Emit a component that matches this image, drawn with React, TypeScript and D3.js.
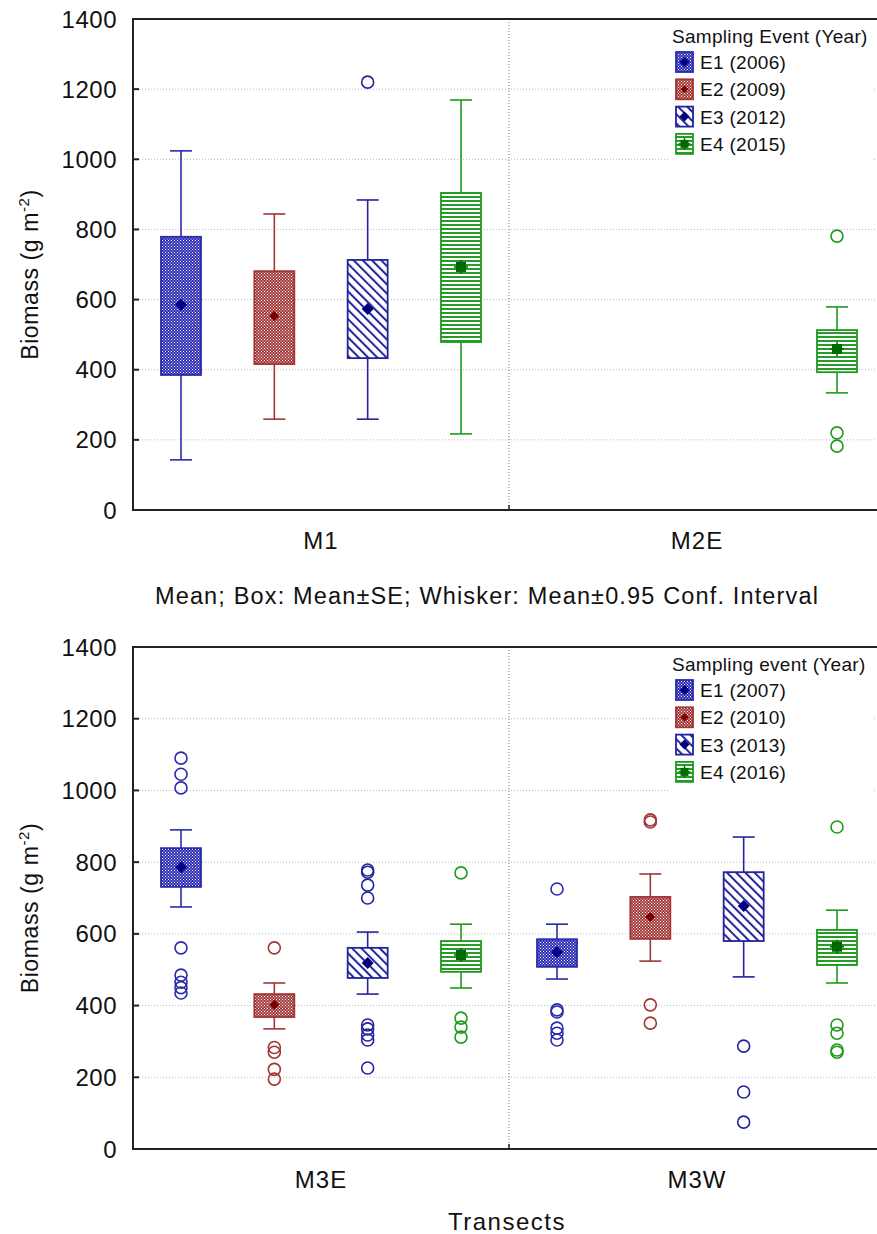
import React from "react";
import * as d3 from "d3";

const events = ["E1", "E2", "E3", "E4"];
const topGroups = ["M1", "M2E"];
const bottomGroups = ["M3E", "M3W"];
const topYears = ["2006", "2009", "2012", "2015"];
const bottomYears = ["2007", "2010", "2013", "2016"];
const yTicks = [0, 200, 400, 600, 800, 1000, 1200, 1400];

// order: group x event (M1 E1..E4, M2E E1..E4)
const topMean = [585, 553, 573, 693, null, null, null, 459];
const topBoxHi = [779, 681, 713, 904, null, null, null, 513];
const topBoxLo = [385, 416, 433, 479, null, null, null, 393];
const topWhiskHi = [1024, 844, 884, 1169, null, null, null, 579];
const topWhiskLo = [143, 259, 259, 217, null, null, null, 334];
const topOutliers = [[], [], [1220], [], [], [], [], [781, 220, 182]];

// order: M3E E1..E4, M3W E1..E4
const botMean = [786, 402, 519, 541, 549, 647, 678, 564];
const botBoxHi = [839, 432, 561, 580, 585, 703, 772, 611];
const botBoxLo = [731, 368, 477, 494, 508, 586, 580, 513];
const botWhiskHi = [890, 463, 605, 627, 627, 767, 870, 666];
const botWhiskLo = [675, 335, 432, 449, 474, 524, 480, 463];
const botOutliers = [
  [1090, 1045, 1007, 561, 485, 465, 450, 435],
  [561, 283, 270, 222, 195],
  [778, 772, 736, 700, 346, 335, 318, 304, 226],
  [770, 365, 340, 312],
  [725, 388, 382, 337, 323, 304],
  [918, 912, 402, 351],
  [287, 159, 75],
  [898, 346, 323, 276, 270],
];

const FONT = "'Liberation Sans', Arial, sans-serif";
const stroke = ["#2b2bae", "#a33535", "#23239e", "#1f9a1f"];
const meanCol = ["#000088", "#7a0000", "#000080", "#006a00"];
const fillId = ["pE1", "pE2", "pE3", "pE4"];

const X0 = 133;
const X1 = 885;

function Marker({ i, x, y, s = 6 }: { i: number; x: number; y: number; s?: number }) {
  if (i === 3) {
    return (
      <g>
        <rect x={x - s + 1} y={y - s + 1} width={2 * s - 2} height={2 * s - 2} fill={meanCol[i]} />
        <line x1={x - s - 1} x2={x + s + 1} y1={y} y2={y} stroke={meanCol[i]} strokeWidth={1.5} />
        <line x1={x} x2={x} y1={y - s - 1} y2={y + s + 1} stroke={meanCol[i]} strokeWidth={1.5} />
      </g>
    );
  }
  const r = i === 1 ? s - 1 : s;
  return <path d={`M${x},${y - r}L${x + r},${y}L${x},${y + r}L${x - r},${y}Z`} fill={meanCol[i]} />;
}

function Panel({
  top, bottom, groups, years, title, mean, boxHi, boxLo, whHi, whLo, outs,
}: any) {
  const y = d3.scaleLinear().domain([0, 1400]).range([bottom, top]);
  const xg = d3.scaleBand().domain(groups).range([X0, X1]);
  const xe = d3.scalePoint().domain(events).range([-140, 140]);
  const bw = 40;
  const cap = 11;
  const legendTop = top + 17;
  return (
    <g>
      {yTicks.filter((t) => t > 0 && t < 1400).map((t) => (
        <line key={t} x1={X0} x2={X1} y1={y(t)} y2={y(t)} stroke="#b8b8b8" strokeWidth={1} strokeDasharray="1,2" />
      ))}
      <line x1={xg(groups[1])} x2={xg(groups[1])} y1={top} y2={bottom} stroke="#777" strokeWidth={1} strokeDasharray="1,2" />
      <line x1={xg(groups[1])} x2={xg(groups[1])} y1={bottom - 5} y2={bottom} stroke="#222" strokeWidth={1.5} />
      <path d={`M${X1},${top}H${X0}V${bottom}H${X1}`} fill="none" stroke="#222" strokeWidth={2} />
      {yTicks.map((t) => (
        <g key={t}>
          <line x1={X0} x2={X0 + 6} y1={y(t)} y2={y(t)} stroke="#222" strokeWidth={2} />
          <text x={117} y={y(t)} dy="0.36em" textAnchor="end" fontSize={24} letterSpacing={0.5} fontFamily={FONT} fill="#111">{t}</text>
        </g>
      ))}
      {groups.map((g: string) => (
        <text key={g} x={(xg(g) as number) + xg.bandwidth() / 2} y={bottom + 39} textAnchor="middle" fontSize={24} letterSpacing={1} fontFamily={FONT} fill="#111">{g}</text>
      ))}
      <text transform={`translate(38,${(top + bottom) / 2 + 10}) rotate(-90)`} textAnchor="middle" fontSize={23} letterSpacing={0.6} fontFamily={FONT} fill="#111">
        Biomass (g m<tspan fontSize={15} dy={-9}>-2</tspan><tspan dy={9}>)</tspan>
      </text>
      {groups.map((g: string, gi: number) =>
        events.map((e, ei) => {
          const k = gi * 4 + ei;
          const cx = (xg(g) as number) + xg.bandwidth() / 2 + (xe(e) as number);
          const o = outs[k].map((v: number, j: number) => (
            <circle key={j} cx={cx} cy={y(v)} r={6} fill="none" stroke={stroke[ei]} strokeWidth={1.6} />
          ));
          if (mean[k] == null) return <g key={k}>{o}</g>;
          return (
            <g key={k}>
              <line x1={cx} x2={cx} y1={y(whHi[k])} y2={y(whLo[k])} stroke={stroke[ei]} strokeWidth={1.6} />
              <line x1={cx - cap} x2={cx + cap} y1={y(whHi[k])} y2={y(whHi[k])} stroke={stroke[ei]} strokeWidth={1.6} />
              <line x1={cx - cap} x2={cx + cap} y1={y(whLo[k])} y2={y(whLo[k])} stroke={stroke[ei]} strokeWidth={1.6} />
              <rect x={cx - bw / 2} y={y(boxHi[k])} width={bw} height={y(boxLo[k]) - y(boxHi[k])} fill="#fff" />
              <rect x={cx - bw / 2} y={y(boxHi[k])} width={bw} height={y(boxLo[k]) - y(boxHi[k])} fill={`url(#${fillId[ei]})`} stroke={stroke[ei]} strokeWidth={1.8} />
              <Marker i={ei} x={cx} y={y(mean[k])} />
              {o}
            </g>
          );
        })
      )}
      <rect x={668} y={top + 3} width={206} height={142} fill="#fff" />
      <text x={672} y={legendTop + 7} fontSize={19} letterSpacing={0.3} fontFamily={FONT} fill="#111">{title}</text>
      {events.map((e, i) => {
        const yy = legendTop + 16 + i * 27.3;
        return (
          <g key={e}>
            <rect x={676} y={yy} width={17} height={20} fill="#fff" />
            <rect x={676} y={yy} width={17} height={20} fill={`url(#${fillId[i]})`} stroke={stroke[i]} strokeWidth={1.8} />
            <Marker i={i} x={684.5} y={yy + 10} s={5} />
            <text x={700} y={yy + 17} fontSize={19} letterSpacing={0.3} fontFamily={FONT} fill="#111">{`${e} (${years[i]})`}</text>
          </g>
        );
      })}
    </g>
  );
}

export default function App() {
  return (
    <svg width={877} height={1234} style={{ position: "absolute", left: 0, top: 0, background: "#fff" }}>
      <defs>
        <pattern id="pE1" patternUnits="userSpaceOnUse" width={3} height={3}>
          <rect width={3} height={3} fill="#2a2ab4" />
          <rect x={0} y={0} width={1} height={1} fill="#fff" />
          <rect x={1.5} y={1.5} width={1} height={1} fill="#fff" />
        </pattern>
        <pattern id="pE2" patternUnits="userSpaceOnUse" width={3} height={3}>
          <rect width={3} height={3} fill="#a53a3a" />
          <rect x={0} y={0} width={1} height={1} fill="#fff" />
          <rect x={1.5} y={1.5} width={1} height={1} fill="#fff" />
        </pattern>
        <pattern id="pE3" patternUnits="userSpaceOnUse" width={6.5} height={6.5} patternTransform="rotate(-45)">
          <rect width={6.5} height={6.5} fill="#fff" />
          <rect x={0} y={0} width={2} height={6.5} fill="#23239e" />
        </pattern>
        <pattern id="pE4" patternUnits="userSpaceOnUse" width={4} height={4}>
          <rect width={4} height={4} fill="#fff" />
          <rect x={0} y={0} width={4} height={2} fill="#2a9a2a" />
        </pattern>
      </defs>
      <rect width={877} height={1234} fill="#fff" />
      <Panel top={19} bottom={510} groups={topGroups} years={topYears} title="Sampling Event (Year)"
        mean={topMean} boxHi={topBoxHi} boxLo={topBoxLo} whHi={topWhiskHi} whLo={topWhiskLo} outs={topOutliers} />
      <text x={487} y={604} textAnchor="middle" fontSize={23.5} letterSpacing={1.15} fontFamily={FONT} fill="#111">
        Mean; Box: Mean±SE; Whisker: Mean±0.95 Conf. Interval
      </text>
      <Panel top={647} bottom={1149} groups={bottomGroups} years={bottomYears} title="Sampling event (Year)"
        mean={botMean} boxHi={botBoxHi} boxLo={botBoxLo} whHi={botWhiskHi} whLo={botWhiskLo} outs={botOutliers} />
      <text x={507} y={1230} textAnchor="middle" fontSize={24} letterSpacing={1.5} fontFamily={FONT} fill="#111">Transects</text>
    </svg>
  );
}
